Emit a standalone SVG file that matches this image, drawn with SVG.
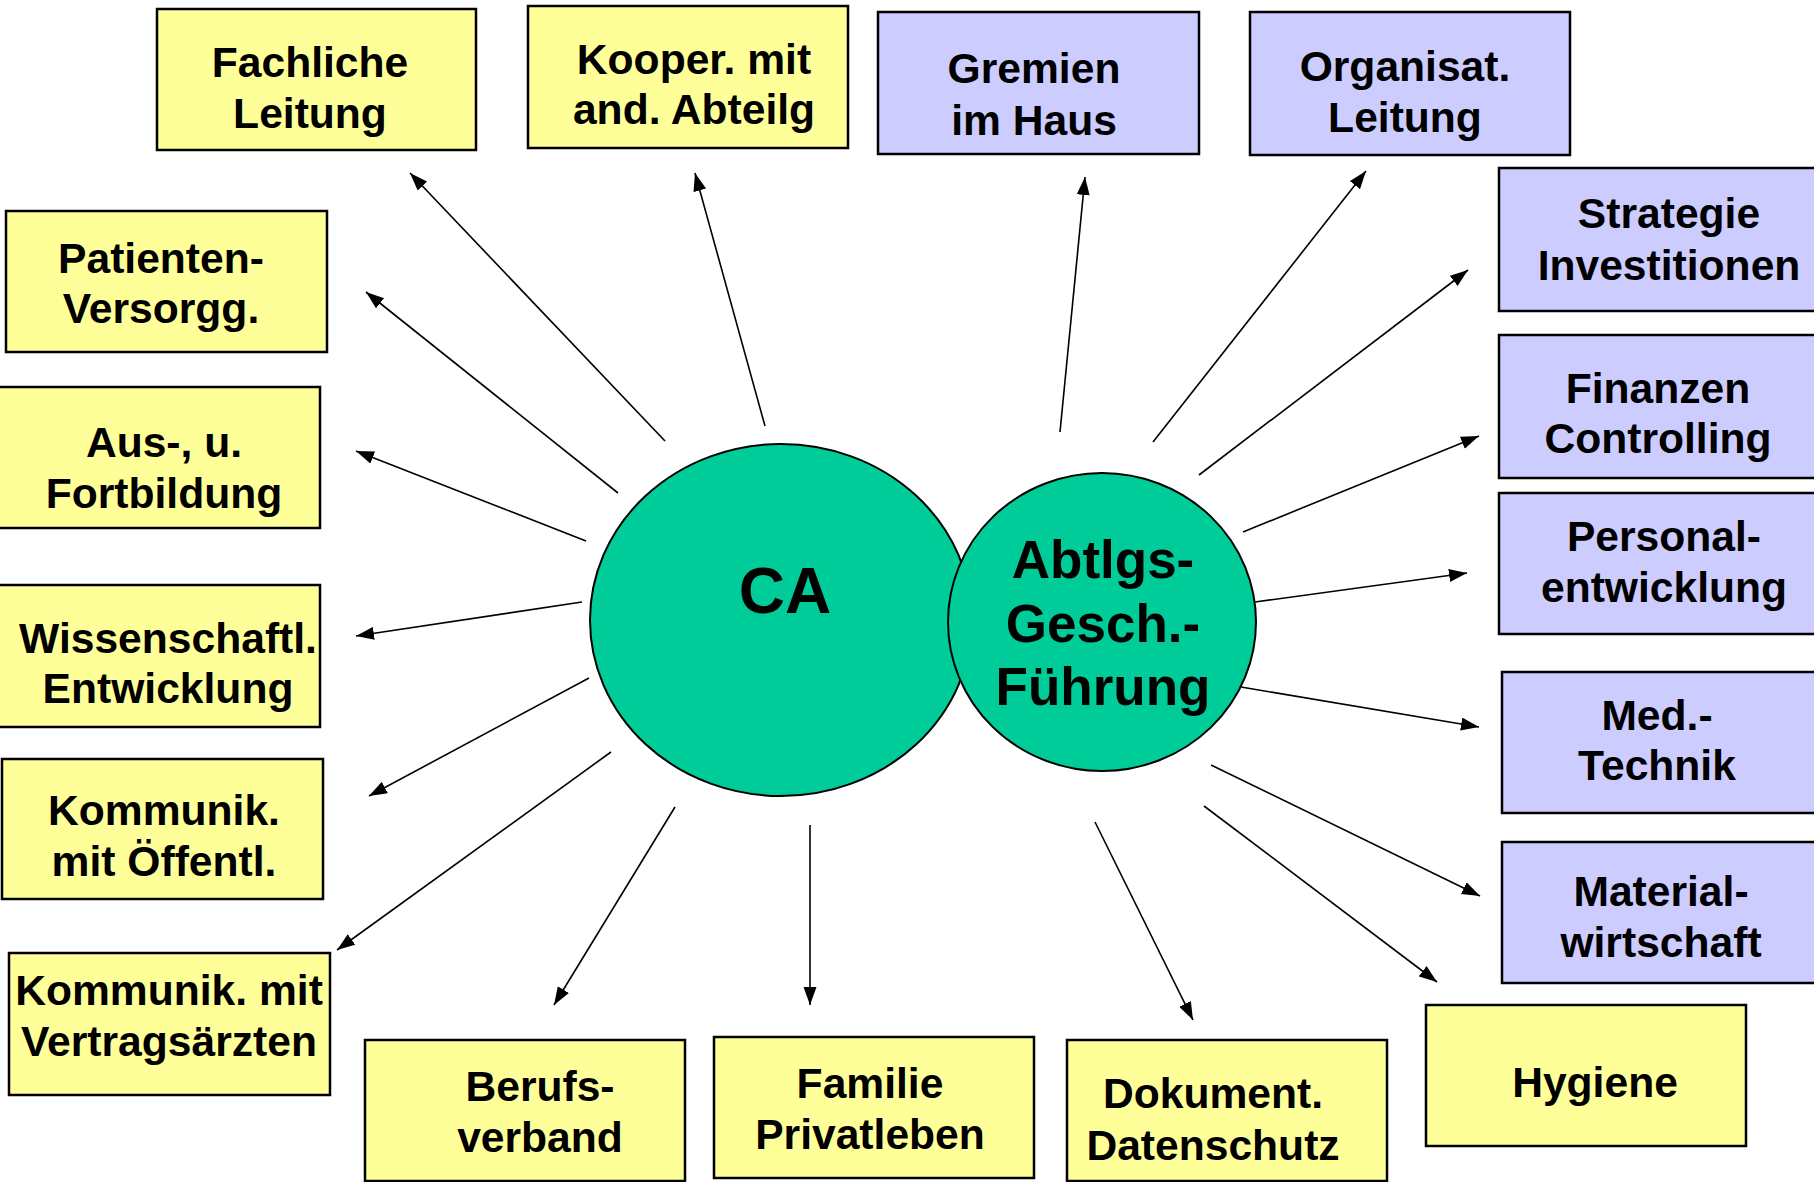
<svg xmlns="http://www.w3.org/2000/svg" width="1814" height="1182" viewBox="0 0 1814 1182">
<defs>
<marker id="ah" markerUnits="userSpaceOnUse" markerWidth="20" markerHeight="14" refX="18" refY="6.5" orient="auto">
<path d="M0,0 L18,6.5 L0,13 Z" fill="#000"/>
</marker>
<style>
.y{fill:#FFFF99;stroke:#000;stroke-width:2.5}
.b{fill:#CCCCFF;stroke:#000;stroke-width:2.5}
.e{fill:#00CC99;stroke:#000;stroke-width:2}
.t{font-family:"Liberation Sans",Arial,sans-serif;font-weight:bold;font-size:42.6px;fill:#000;text-anchor:middle}
.c line{stroke:#000;stroke-width:1.6;marker-end:url(#ah)}
</style>
</defs>
<rect width="1814" height="1182" fill="#fff"/>
<g id="connectors" class="c">
<line x1="665" y1="441" x2="410" y2="173"/>
<line x1="765" y1="426" x2="695" y2="173"/>
<line x1="618" y1="493" x2="366" y2="292"/>
<line x1="586" y1="541" x2="356" y2="451"/>
<line x1="582" y1="602" x2="356" y2="636"/>
<line x1="589" y1="678" x2="369" y2="796"/>
<line x1="611" y1="752" x2="337" y2="950"/>
<line x1="675" y1="807" x2="554" y2="1005"/>
<line x1="810" y1="825" x2="810" y2="1005"/>
<line x1="1095" y1="822" x2="1193" y2="1020"/>
<line x1="1204" y1="806" x2="1437" y2="982"/>
<line x1="1211" y1="765" x2="1480" y2="896"/>
<line x1="1241" y1="687" x2="1479" y2="727"/>
<line x1="1255" y1="602" x2="1467" y2="573"/>
<line x1="1243" y1="532" x2="1479" y2="436"/>
<line x1="1199" y1="475" x2="1468" y2="270"/>
<line x1="1153" y1="442" x2="1366" y2="171"/>
<line x1="1060" y1="432" x2="1085" y2="177"/>
</g>
<g id="ca">
<ellipse class="e" cx="781" cy="620" rx="191" ry="176"/>
<text class="t" x="785" y="613" style="font-size:64px">CA</text>
</g>
<g id="abtlg">
<ellipse class="e" cx="1102" cy="622" rx="154" ry="149"/>
<text class="t" style="font-size:53px"><tspan x="1103" y="578">Abtlgs-</tspan><tspan x="1103" y="642">Gesch.-</tspan><tspan x="1103" y="705">Führung</tspan></text>
</g>
<g id="fachliche">
<rect class="y" x="157" y="9" width="319" height="141"/>
<text class="t"><tspan x="310" y="77">Fachliche</tspan><tspan x="310" y="128">Leitung</tspan></text>
</g>
<g id="kooper">
<rect class="y" x="528" y="6" width="320" height="142"/>
<text class="t"><tspan x="694" y="74">Kooper. mit</tspan><tspan x="694" y="124">and. Abteilg</tspan></text>
</g>
<g id="gremien">
<rect class="b" x="878" y="12" width="321" height="142"/>
<text class="t"><tspan x="1034" y="83">Gremien</tspan><tspan x="1034" y="135">im Haus</tspan></text>
</g>
<g id="organisat">
<rect class="b" x="1250" y="12" width="320" height="143"/>
<text class="t"><tspan x="1405" y="81">Organisat.</tspan><tspan x="1405" y="132">Leitung</tspan></text>
</g>
<g id="strategie">
<rect class="b" x="1499" y="168" width="325" height="143"/>
<text class="t"><tspan x="1669" y="228">Strategie</tspan><tspan x="1669" y="280">Investitionen</tspan></text>
</g>
<g id="finanzen">
<rect class="b" x="1499" y="335" width="325" height="143"/>
<text class="t"><tspan x="1658" y="403">Finanzen</tspan><tspan x="1658" y="453">Controlling</tspan></text>
</g>
<g id="personal">
<rect class="b" x="1499" y="493" width="325" height="141"/>
<text class="t"><tspan x="1664" y="551">Personal-</tspan><tspan x="1664" y="602">entwicklung</tspan></text>
</g>
<g id="medtechnik">
<rect class="b" x="1502" y="672" width="325" height="141"/>
<text class="t"><tspan x="1657" y="730">Med.-</tspan><tspan x="1657" y="780">Technik</tspan></text>
</g>
<g id="material">
<rect class="b" x="1502" y="842" width="325" height="141"/>
<text class="t"><tspan x="1661" y="906">Material-</tspan><tspan x="1661" y="957">wirtschaft</tspan></text>
</g>
<g id="hygiene">
<rect class="y" x="1426" y="1005" width="320" height="141"/>
<text class="t" x="1595" y="1097">Hygiene</text>
</g>
<g id="dokument">
<rect class="y" x="1067" y="1040" width="320" height="141"/>
<text class="t"><tspan x="1213" y="1108">Dokument.</tspan><tspan x="1213" y="1160">Datenschutz</tspan></text>
</g>
<g id="familie">
<rect class="y" x="714" y="1037" width="320" height="141"/>
<text class="t"><tspan x="870" y="1098">Familie</tspan><tspan x="870" y="1149">Privatleben</tspan></text>
</g>
<g id="berufsverband">
<rect class="y" x="365" y="1040" width="320" height="141"/>
<text class="t"><tspan x="540" y="1101">Berufs-</tspan><tspan x="540" y="1152">verband</tspan></text>
</g>
<g id="vertragsaerzte">
<rect class="y" x="9" y="953" width="321" height="142"/>
<text class="t"><tspan x="169" y="1005">Kommunik. mit</tspan><tspan x="169" y="1056">Vertragsärzten</tspan></text>
</g>
<g id="oeffentl">
<rect class="y" x="2" y="759" width="321" height="140"/>
<text class="t"><tspan x="164" y="825">Kommunik.</tspan><tspan x="164" y="876">mit Öffentl.</tspan></text>
</g>
<g id="wissenschaftl">
<rect class="y" x="-2" y="585" width="322" height="142"/>
<text class="t"><tspan x="168" y="653">Wissenschaftl.</tspan><tspan x="168" y="703">Entwicklung</tspan></text>
</g>
<g id="fortbildung">
<rect class="y" x="-2" y="387" width="322" height="141"/>
<text class="t"><tspan x="164" y="457">Aus-, u.</tspan><tspan x="164" y="508">Fortbildung</tspan></text>
</g>
<g id="patienten">
<rect class="y" x="6" y="211" width="321" height="141"/>
<text class="t"><tspan x="161" y="273">Patienten-</tspan><tspan x="161" y="323">Versorgg.</tspan></text>
</g>
</svg>
